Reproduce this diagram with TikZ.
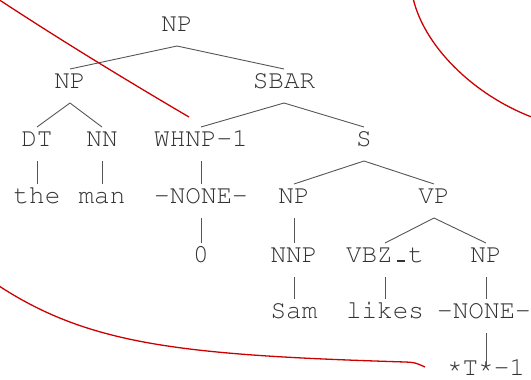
\documentclass[tikz,border=0pt]{standalone}
\usepackage[T1]{fontenc}
\definecolor{txtgray}{HTML}{333333}
\definecolor{edgegray}{HTML}{555555}
\definecolor{arcred}{HTML}{CC0000}
\newcommand{\treefont}{\fontencoding{T1}\fontfamily{pcr}\selectfont}
% a short baseline bar filling one monospace cell
\newcommand{\barcell}{\makebox[0.6em]{\rule{0.3em}{1.6pt}}}
% a slightly raised asterisk
\newcommand{\hiast}{\raisebox{2pt}{*}}
\begin{document}
\begin{tikzpicture}[x=1pt,y=-1pt,
  tn/.style={anchor=base, inner sep=0pt, outer sep=0pt,
    text height=19pt, text depth=15pt, text=txtgray,
    font={\treefont\fontsize{26}{26}\selectfont}},
  edge/.style={draw=edgegray, line width=0.9pt},
  arc/.style={draw=arcred, line width=1.3pt}]
\useasboundingbox (0,0) rectangle (531,380);

% parse tree labels
\node[tn] (root)  at (177,31)  {NP};
\node[tn] (np1)   at (70,88)   {NP};
\node[tn] (sbar)  at (284,88)  {SBAR};
\node[tn] (dt)    at (37,146)  {DT};
\node[tn] (nn)    at (102,146) {NN};
\node[tn] (whnp)  at (201,146) {WHNP-1};
\node[tn] (s)     at (364,146) {S};
\node[tn] (the)   at (37,203)  {the};
\node[tn] (man)   at (102,203) {man};
\node[tn] (none1) at (201,203) {-NONE-};
\node[tn] (np2)   at (294,203) {NP};
\node[tn] (vp)    at (434,203) {VP};
\node[tn] (zero)  at (201,262) {0};
\node[tn] (nnp)   at (294,262) {NNP};
\node[tn] (vbz)   at (385,262) {VBZ\barcell t};
\node[tn] (np3)   at (486,262) {NP};
\node[tn] (sam)   at (294,318) {Sam};
\node[tn] (likes) at (385,318) {likes};
\node[tn] (none2) at (484,318) {-NONE-};
\node[tn, text depth=3pt] (trace) at (486,375) {\hiast T\hiast-1};

% tree edges
\draw[edge] (root.south) -- (np1.north);
\draw[edge] (root.south) -- (sbar.north);
\draw[edge] (np1.south) -- (dt.north);
\draw[edge] (np1.south) -- (nn.north);
\draw[edge] (sbar.south) -- (whnp.north);
\draw[edge] (sbar.south) -- (s.north);
\draw[edge] (dt.south) -- (the.north);
\draw[edge] (nn.south) -- (man.north);
\draw[edge] (whnp.south) -- (none1.north);
\draw[edge] (s.south) -- (np2.north);
\draw[edge] (s.south) -- (vp.north);
\draw[edge] (none1.south) -- (zero.north);
\draw[edge] (np2.south) -- (nnp.north);
\draw[edge] (vp.south) -- (vbz.north);
\draw[edge] (vp.south) -- (np3.north);
\draw[edge] (nnp.south) -- (sam.north);
\draw[edge] (vbz.south) -- (likes.north);
\draw[edge] (np3.south) -- (np3.south |- none2.north);
\draw[edge] (np3.south |- none2.south) -- ([yshift=-11pt]trace.north);

% red arcs
\draw[arc] (-2,-1) .. controls (62,41) and (126,80) .. (189,117);
\draw[arc] (413,-2) .. controls (425,50) and (480,100) .. (540,120);
\draw[arc] (-4,284) .. controls (88,345) and (180,355) .. (405,362)
           .. controls (415,362.5) .. (425,367);
\end{tikzpicture}
\end{document}
